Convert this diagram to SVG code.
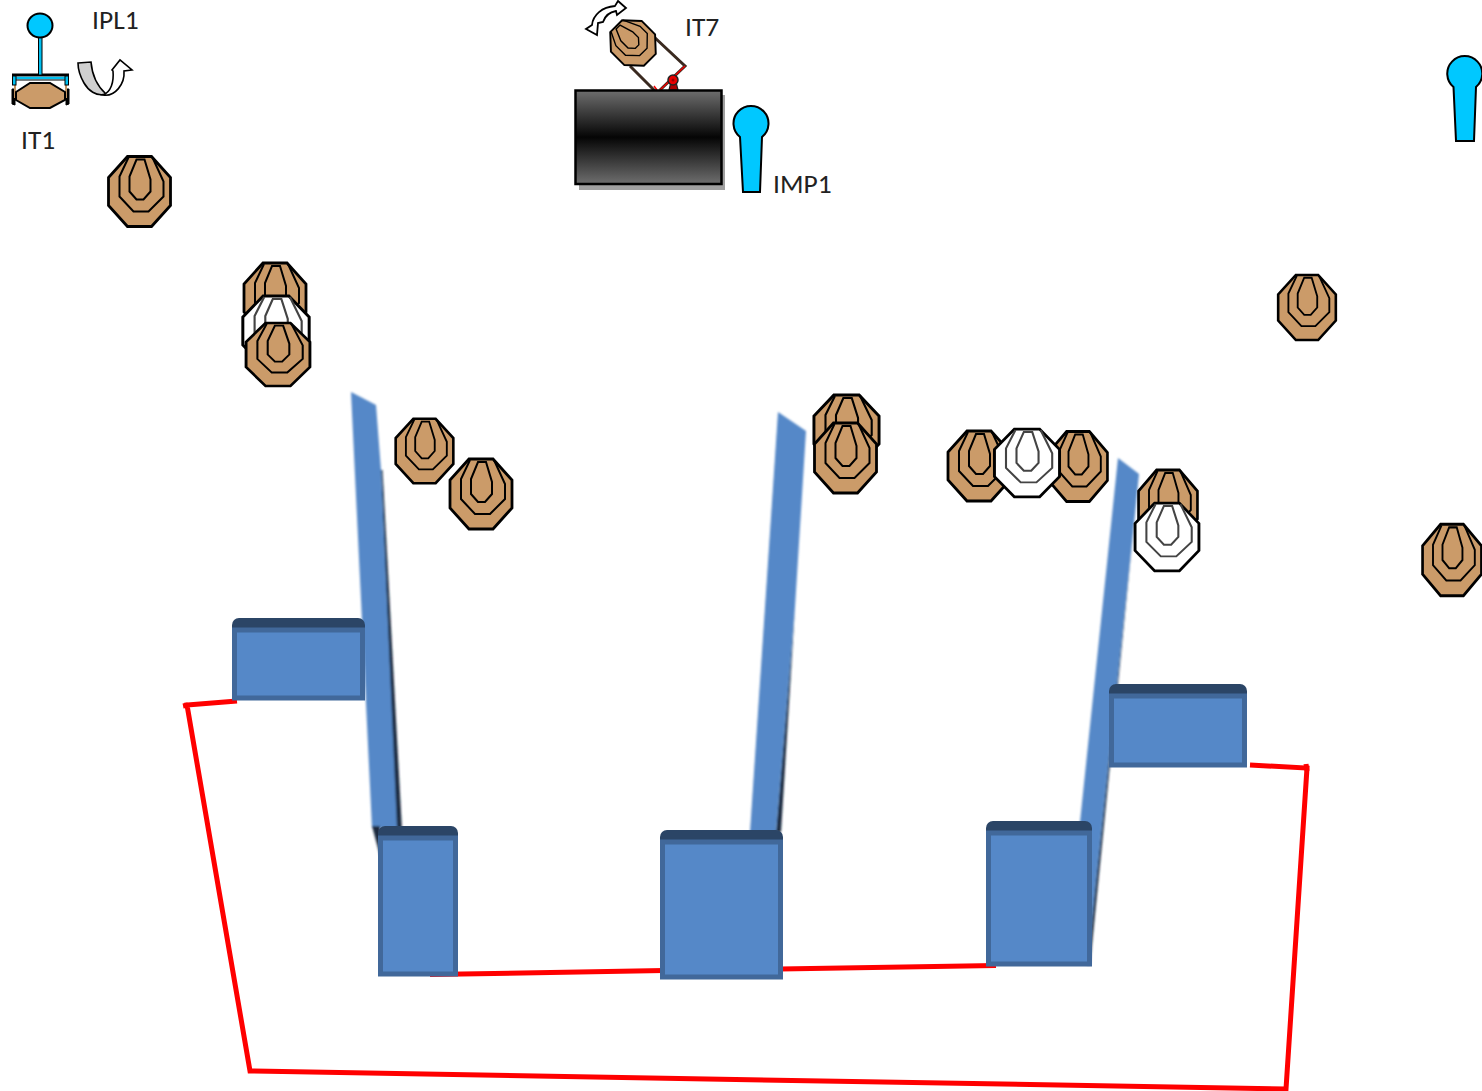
<svg xmlns="http://www.w3.org/2000/svg" width="1482" height="1091" viewBox="0 0 1482 1091">
<style>
.lbl{font-family:"Carlito","Lato","Liberation Sans",sans-serif;font-size:27.500px;fill:#222}
.oct{stroke:#000;stroke-width:2.800}
.ln{fill:none;stroke:var(--inner,#000);stroke-width:2}
.tan{fill:#CB9B69}
.wht{fill:#fff;--inner:#444}
.body{fill:#5588C8;stroke:#41689A;stroke-width:5}
.cap{fill:#2B4566}
.bar{fill:#5588C8}
.edge{fill:#1B2C40}
.red{fill:none;stroke:#F00;stroke-width:5}
.blue{fill:#00C8FF;stroke:#000;stroke-width:2}
</style>
<defs>
<g id="target">
<polygon class="oct" points="-12,-35 12,-35 31,-14 31,14 12,35 -12,35 -31,14 -31,-14"/>
<path class="ln" d="M-11,-34 L-20,-15 L-20,5 L-6,20 L9,20 L24,5 L24,-10 L13,-34"/>
<path class="ln" d="M-3,-32 L5,-32 L11,-12 L11,0 L4,8 L-3,8 L-10,0 L-10,-15 Z"/>
</g>
<linearGradient id="cyl" x1="0" y1="0" x2="0" y2="1">
<stop offset="0" stop-color="#6E6E6E"/><stop offset="0.5" stop-color="#050505"/><stop offset="1" stop-color="#6E6E6E"/>
</linearGradient>
<filter id="soft" x="-10%" y="-5%" width="120%" height="110%"><feGaussianBlur stdDeviation="0.800"/></filter>
</defs>

<g id="connectors">
<polyline class="red" points="237,701 187,705 250,1071 1286,1089 1307,768 1250,765"/>
<line class="red" x1="430" y1="974.500" x2="664" y2="970.500"/>
<line class="red" x1="780" y1="969" x2="996" y2="965.500"/>
<path class="red" d="M185,703 l1,5 M1306,764 l1,7"/>
</g>

<g id="bar-left" filter="url(#soft)">
<polygon class="edge" points="381,470 382.500,470 402,830 396,830"/>
<polygon class="bar" points="351,392 376,405 381,470 397,828 372,828"/>
<polygon class="edge" points="372,826 380,826 380,856"/>
</g>
<g id="bar-mid" filter="url(#soft)">
<polygon class="edge" points="794.800,610 781,832 776,832"/>
<polygon class="bar" points="778,412 806,431 794.800,610 776,832 750,832"/>
</g>
<g id="bar-right" filter="url(#soft)">
<polygon class="edge" points="1133.400,530 1090,965 1087,965"/>
<polygon class="bar" points="1118,458 1139,474 1133.400,530 1087,965 1080,822"/>
</g>

<g id="block-a"><rect class="cap" x="232" y="618" width="133" height="20" rx="7"/><rect class="body" x="234.500" y="630" width="128" height="68"/></g>
<g id="block-b"><rect class="cap" x="378" y="826" width="80" height="20" rx="7"/><rect class="body" x="380.500" y="838" width="75" height="136"/></g>
<g id="block-c"><rect class="cap" x="660" y="830" width="123" height="20" rx="7"/><rect class="body" x="662.500" y="842" width="118" height="135"/></g>
<g id="block-d"><rect class="cap" x="986" y="821" width="106" height="20" rx="7"/><rect class="body" x="988.500" y="833" width="101" height="131"/></g>
<g id="block-e"><rect class="cap" x="1109" y="684" width="138" height="20" rx="7"/><rect class="body" x="1111.500" y="696" width="133" height="69"/></g>

<g id="it1-tool">
<path d="M78,63 L91,62 C92,74 97,86 106,94 C96,97 88,90 84,83 C80,76 78,70 78,63 Z" fill="#D0D0D0" stroke="#000" stroke-width="1.600"/>
<path d="M103,95 C111,92 114,82 113,71 L112,70 L120,60 L132,70 L124,71 C125,84 115,97 103,95 Z" fill="#fff" stroke="#000" stroke-width="1.600"/>
<path d="M12,89 V104 L15,105 V89 Z M69,89 V104 L66,105 V89 Z" fill="#000" stroke="#000" stroke-width="1"/>
<path d="M15,84 V98 M66,84 V98" stroke="#C49562" stroke-width="2"/>
<path d="M16,92 L30,83 L50,83 L65,92 L65,100 L50,108 L30,108 L16,100 Z" fill="#CB9B69" stroke="#000" stroke-width="2"/>
<path d="M12,75 H69" stroke="#000" stroke-width="3"/>
<path d="M13,78 H68" stroke="#00C0F0" stroke-width="2.500"/>
<path d="M13,80 H68" stroke="#000" stroke-width="1.200"/>
<rect x="12.500" y="76" width="3.500" height="9" fill="#00C0F0" stroke="#000" stroke-width="1"/>
<rect x="65" y="76" width="3.500" height="9" fill="#00C0F0" stroke="#000" stroke-width="1"/>
<rect x="38.500" y="37" width="3.500" height="38" fill="#00C0F0" stroke="#000" stroke-width="1"/>
<ellipse cx="40" cy="25.500" rx="12.500" ry="12" class="blue"/>
</g>
<text class="lbl" x="92" y="29">IPL1</text>
<text class="lbl" x="21" y="149">IT1</text>

<g id="it7-tool">
<path d="M618,1 L626,8 L617,15 L616,11 C610,12 605,16 603,22 L598,23 L597,35 L586,29 L592,25 C593,15 602,7 615,6 Z" fill="#fff" stroke="#000" stroke-width="1.800"/>
<path d="M653,36 L685,66 L660,90 M630,66 L656,92" fill="none" stroke="#3A2A20" stroke-width="3"/>
<path d="M685,66 L660,90 M654,86 L657,90" fill="none" stroke="#E00" stroke-width="1.500"/>
<polygon points="669,90 671,82 676,82 678,90" fill="#B00000" stroke="#222" stroke-width="1.200"/>
<circle cx="673" cy="80" r="5" fill="#E80000" stroke="#222" stroke-width="1.500"/>
<circle cx="673" cy="80" r="1.500" fill="#900"/>
<use href="#target" class="tan" transform="translate(633,43) rotate(-45) scale(0.7,0.68)"/>
</g>
<text class="lbl" x="685" y="36">IT7</text>

<g id="press">
<rect x="579" y="95" width="146" height="95" fill="#A0A0A0"/>
<rect x="575.500" y="90.500" width="146" height="93.500" fill="url(#cyl)" stroke="#000" stroke-width="2.500"/>
</g>
<g id="imp1"><path class="blue" d="M743,192 L740,137 A17.500,17.500 0 1 1 762,137 L760,192 Z"/></g>
<text class="lbl" x="773" y="193">IMP1</text>
<g id="imp2"><path class="blue" d="M1456,141 L1453.500,87 A17.500,17.500 0 1 1 1476,87 L1474,141 Z"/></g>

<g id="t1"><use href="#target" class="tan" transform="translate(139.500,191.500)"/></g>
<g id="t2"><use href="#target" class="tan" transform="translate(275,298)"/></g>
<g id="t3"><use href="#target" class="wht" transform="translate(276,331) scale(1.07,1)"/></g>
<g id="t4"><use href="#target" class="tan" transform="translate(278,354.500) scale(1.03,0.9)"/></g>
<g id="t5"><use href="#target" class="tan" transform="translate(424.500,451) scale(0.93,0.92)"/></g>
<g id="t6"><use href="#target" class="tan" transform="translate(481,494)"/></g>
<g id="t7"><use href="#target" class="tan" transform="translate(846.500,430) scale(1.05,1)"/></g>
<g id="t8"><use href="#target" class="tan" transform="translate(845.500,458)"/></g>
<g id="t9"><use href="#target" class="tan" transform="translate(979,466)"/></g>
<g id="t10"><use href="#target" class="tan" transform="translate(1078,466.500) scale(0.95,1)"/></g>
<g id="t11"><use href="#target" class="wht" transform="translate(1027,463) scale(1.05,0.97)"/></g>
<g id="t12"><use href="#target" class="tan" transform="translate(1168,505) scale(0.95,1)"/></g>
<g id="t13"><use href="#target" class="wht" transform="translate(1167,537) scale(1.03,0.97)"/></g>
<g id="t14"><use href="#target" class="tan" transform="translate(1307,307.500) scale(0.93,0.93)"/></g>
<g id="t15"><use href="#target" class="tan" transform="translate(1452,560) scale(0.95,1.02)"/></g>
</svg>
